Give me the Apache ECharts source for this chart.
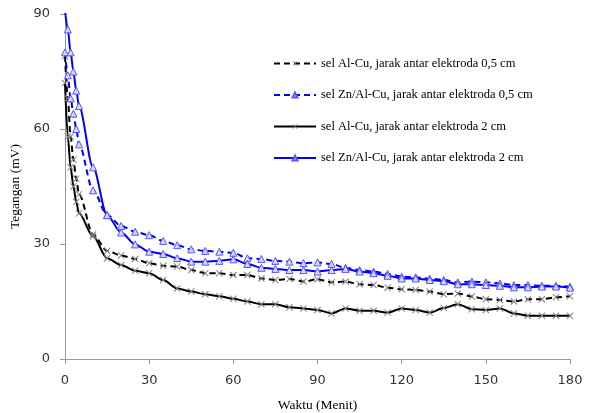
<!DOCTYPE html>
<html>
<head>
<meta charset="utf-8">
<script src="https://cdn.jsdelivr.net/npm/echarts@6/dist/echarts.min.js"></script>
<style>
  html, body { margin: 0; padding: 0; background: #fff; }
  #chart { width: 590px; height: 413px; }
</style>
</head>
<body>
<div id="chart"></div>
<script>
const waktu = [0, 1, 2, 3, 4, 5, 10, 15, 20, 25, 30, 35, 40, 45, 50, 55, 60, 65, 70, 75, 80, 85, 90,
  95, 100, 105, 110, 115, 120, 125, 130, 135, 140, 145, 150, 155, 160, 165, 170, 175, 180];

const alCu05 = [79, 68, 58, 52, 47, 43, 32.5, 28.2, 27, 26.1, 25, 24.3, 24.1, 23.2, 22.4, 22.4, 21.9, 21.9, 21, 20.6, 20.9, 20.2, 20.8,
  20, 20.2, 19.5, 19.3, 18.6, 18.2, 18, 17.6, 16.9, 17.1, 16.3, 15.6, 15.4, 15, 15.6, 15.6, 16.1, 16.4];
const znAlCu05 = [80, 74, 68, 64, 60, 56, 44, 37.6, 34.7, 33.2, 32.3, 30.8, 29.7, 28.6, 28.2, 28, 27.7, 26.3, 26.1, 25.6, 25.4, 25, 25.2,
  24.8, 23.8, 23.2, 22.8, 22.2, 21.5, 21.3, 21, 20.6, 20, 20.2, 20, 19.7, 19.3, 19.3, 19.1, 19.1, 18.9];
const alCu2 = [72, 58, 50, 45, 41, 38, 32, 26.3, 24.5, 23, 22.4, 20.6, 18.4, 17.6, 16.9, 16.4, 15.7, 15, 14.3, 14.3, 13.5, 13.2, 12.8,
  11.9, 13.2, 12.6, 12.6, 12.1, 13.2, 12.8, 12.1, 13.3, 14.3, 13, 12.8, 13.2, 11.9, 11.3, 11.3, 11.3, 11.3];
const znAlCu2 = [91, 86, 80, 75, 70, 66, 50, 37.5, 33, 29.9, 28, 27.4, 26.3, 25.4, 25.4, 25.6, 26, 24.8, 23.8, 23.5, 23.2, 23.2, 22.8,
  23.2, 23.5, 22.8, 22.4, 21.7, 21, 21, 20.6, 20.3, 19.5, 19.5, 19.3, 19.1, 18.7, 18.7, 18.9, 18.9, 18.6];

const seriesNames = [
  'sel Al-Cu, jarak antar elektroda 0,5 cm',
  'sel Zn/Al-Cu, jarak antar elektroda 0,5 cm',
  'sel Al-Cu, jarak antar elektroda 2 cm',
  'sel Zn/Al-Cu, jarak antar elektroda 2 cm'
];

const xTicks = [0, 30, 60, 90, 120, 150, 180];
const yTicks = [0, 30, 60, 90];

const crossSymbol = 'path://M0,1L1,0L5,4L9,0L10,1L6,5L10,9L9,10L5,6L1,10L0,9L4,5Z';

function pairs(values) {
  return waktu.map((t, i) => [t, values[i]]);
}

function makeSeries(name, values, isBlue, dashed) {
  const lineColor = isBlue ? '#0000ff' : '#000000';
  return {
    name: name,
    type: 'line',
    data: pairs(values),
    smooth: 0.3,
    smoothMonotone: 'x',
    symbol: isBlue ? 'triangle' : crossSymbol,
    symbolSize: 7,
    showAllSymbol: true,
    lineStyle: { color: lineColor, width: 2, type: dashed ? [6, 4] : 'solid' },
    itemStyle: isBlue
      ? { color: '#d8d8ff', borderColor: '#5555ff', borderWidth: 1 }
      : { color: '#808080', borderWidth: 0 },
    emphasis: { disabled: true },
    z: isBlue ? 3 : 2
  };
}

const chart = echarts.init(document.getElementById('chart'));
const axisFont = { fontFamily: 'DejaVu Sans', fontSize: 13, color: '#333' };

chart.setOption({
  animation: false,
  backgroundColor: '#fff',
  grid: { left: 65, right: 20, top: 14, bottom: 54, containLabel: false, outerBoundsMode: 'none' },
  legend: {
    orient: 'vertical',
    left: 268,
    top: 52,
    itemWidth: 42,
    itemHeight: 6,
    itemGap: 18.5,
    textStyle: { fontFamily: 'Liberation Serif', fontSize: 12.5, color: '#000' },
    data: seriesNames
  },
  xAxis: {
    type: 'value',
    min: 0,
    max: 180,
    interval: 30,
    name: 'Waktu (Menit)',
    nameLocation: 'middle',
    nameGap: 39,
    nameTextStyle: { fontFamily: 'Liberation Serif', fontSize: 13.5, color: '#000' },
    axisLine: { lineStyle: { color: '#999' } },
    axisTick: { show: true, length: 5, lineStyle: { color: '#999' } },
    axisLabel: Object.assign({ margin: 15, formatter: v => xTicks.includes(v) ? String(v) : '' }, axisFont),
    splitLine: { show: false }
  },
  yAxis: {
    type: 'value',
    min: 0,
    max: 90,
    interval: 30,
    name: 'Tegangan (mV)',
    nameLocation: 'middle',
    nameGap: 37,
    nameTextStyle: { fontFamily: 'Liberation Serif', fontSize: 13.5, color: '#000' },
    axisLine: { show: true, lineStyle: { color: '#999' } },
    axisTick: { show: true, length: 5, lineStyle: { color: '#999' } },
    axisLabel: Object.assign({ margin: 15, formatter: v => yTicks.includes(v) ? String(v) : '' }, axisFont),
    splitLine: { show: false }
  },
  series: [
    makeSeries(seriesNames[0], alCu05, false, true),
    makeSeries(seriesNames[1], znAlCu05, true, true),
    makeSeries(seriesNames[2], alCu2, false, false),
    makeSeries(seriesNames[3], znAlCu2, true, false)
  ]
});
</script>
</body>
</html>
